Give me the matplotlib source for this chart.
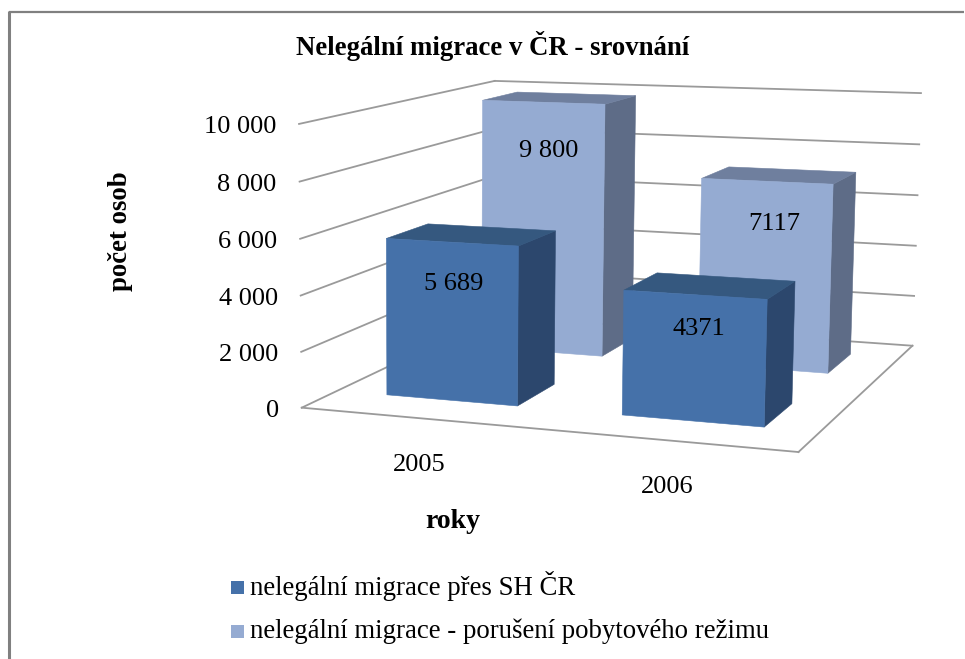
import numpy as np
import matplotlib
matplotlib.use("Agg")
import matplotlib.pyplot as plt
from matplotlib.patches import Polygon, Rectangle

categories = ["2005", "2006"]
series_names = ["nelegální migrace přes SH ČR", "nelegální migrace - porušení pobytového režimu"]
illegal_border = [5689, 4371]
illegal_stay = [9800, 7117]
border_labels = ["5 689", "4371"]
stay_labels = ["9 800", "7117"]
y_ticks = [0, 2000, 4000, 6000, 8000, 10000]
y_tick_labels = ["0", "2 000", "4 000", "6 000", "8 000", "10 000"]

# camera calibration of the 3D scene: (category axis, series axis, value) -> figure pixel
anchors = [
    (0, 0, 0, 304, 407), (2, 0, 0, 798, 453), (0, 2, 0, 491, 317), (2, 2, 0, 913, 345),
    (0, 0, 10000, 297, 123), (0, 2, 10000, 497, 81), (2, 2, 10000, 920, 94),
    (0, 0, 4000, 301, 296), (0, 0, 6000, 300, 239), (2, 2, 4000, 917, 245), (2, 2, 6000, 917, 195),
]
A = []
for X, Y, Z, x, y in anchors:
    Z = Z / 10000
    A.append([X, Y, Z, 1, 0, 0, 0, 0, -x*X, -x*Y, -x*Z, -x])
    A.append([0, 0, 0, 0, X, Y, Z, 1, -y*X, -y*Y, -y*Z, -y])
P = np.linalg.svd(np.array(A, float))[2][-1].reshape(3, 4)


def project(u, v, val):
    h = P @ np.array([u, v, val / 10000, 1.0])
    return h[:2] / h[2]


FONT = "Liberation Serif"
GRID = "#9a9a9a"
FRAME = "#808080"
STYLES = [
    dict(front="#4571A9", top="#35587F", side="#2C476D"),
    dict(front="#95ABD2", top="#6F7F9E", side="#5E6C87"),
]
U0, U1 = 0.22, 0.785
V0, V1 = 0.32, 0.73

fig = plt.figure(figsize=(9.65, 6.59), dpi=100, facecolor="white")
ax = fig.add_axes([0, 0, 1, 1])
ax.set_xlim(0, 965)
ax.set_ylim(659, 0)
ax.axis("off")

# outer frame (only top and left edges are visible)
ax.plot([8.5, 964], [11.5, 11.5], color=FRAME, lw=1.6, solid_capstyle="butt", zorder=1)
ax.plot([8.5, 8.5], [659, 10.5], color=FRAME, lw=2.2, solid_capstyle="butt", zorder=1)


def line3d(a, b):
    pa, pb = project(*a), project(*b)
    ax.plot([pa[0], pb[0]], [pa[1], pb[1]], color=GRID, lw=1.3, zorder=2)


# walls and floor
for t in y_ticks:
    line3d((0, 0, t), (0, 2, t))
    line3d((0, 2, t), (2, 2, t))
line3d((0, 0, 0), (2, 0, 0))
line3d((2, 0, 0), (2, 2, 0))

# bars, painted back to front
z = 3
for j, vals in reversed(list(enumerate([illegal_border, illegal_stay]))):
    st = STYLES[j]
    for i, val in enumerate(vals):
        u0, u1 = i + U0, i + U1
        v0, v1 = j + V0, j + V1
        faces = [
            ([(u1, v0, 0), (u1, v1, 0), (u1, v1, val), (u1, v0, val)], st["side"]),
            ([(u0, v0, val), (u1, v0, val), (u1, v1, val), (u0, v1, val)], st["top"]),
            ([(u0, v0, 0), (u1, v0, 0), (u1, v0, val), (u0, v0, val)], st["front"]),
        ]
        for pts, col in faces:
            ax.add_patch(Polygon([project(*p) for p in pts], closed=True, facecolor=col,
                                 edgecolor=col, lw=0.4, zorder=z))
            z += 1

# value labels: offset from the middle of the bar's front top edge
label_shift = {(0, 0): (2.5, 48), (0, 1): (4, 40.5), (1, 0): (6, 55), (1, 1): (8, 49)}
for j, (vals, labs) in enumerate([(illegal_border, border_labels), (illegal_stay, stay_labels)]):
    for i, (val, lab) in enumerate(zip(vals, labs)):
        p = project(i + (U0 + U1) / 2, j + V0, val)
        dx, dy = label_shift[(j, i)]
        ax.text(p[0] + dx, p[1] + dy, lab, family=FONT, fontsize=19, ha="center", va="baseline",
                color="black", zorder=50)

# value-axis tick labels
for t, lab in zip(y_ticks, y_tick_labels):
    p = project(0, 0, t)
    ax.text(p[0] - 23, p[1] + 9, lab, family=FONT, fontsize=19, ha="right", va="baseline", color="black")

# category labels
for i, c in enumerate(categories):
    p = project(i + 0.5, 0, 0)
    ax.text(p[0] + 1, p[1] + 52.5, c, family=FONT, fontsize=19, ha="center", va="baseline", color="black")

ax.text(493, 55, "Nelegální migrace v ČR - srovnání", family=FONT, fontsize=19.3, fontweight="bold",
        ha="center", va="baseline", color="black")
ax.text(127, 231, "počet osob", family=FONT, fontsize=19.3, fontweight="bold", rotation=90,
        rotation_mode="anchor", ha="center", va="baseline", color="black")
ax.text(453, 528, "roky", family=FONT, fontsize=20, fontweight="bold", ha="center", va="baseline", color="black")

# legend
for name, st, y, yb in zip(series_names, STYLES, [587, 631], [595, 638]):
    ax.add_patch(Rectangle((231, y - 6.5), 13, 13, facecolor=st["front"], edgecolor="none"))
    ax.text(249.5, yb, name, family=FONT, fontsize=19.3, ha="left", va="baseline", color="black")

fig.savefig("out.png", dpi=100)
